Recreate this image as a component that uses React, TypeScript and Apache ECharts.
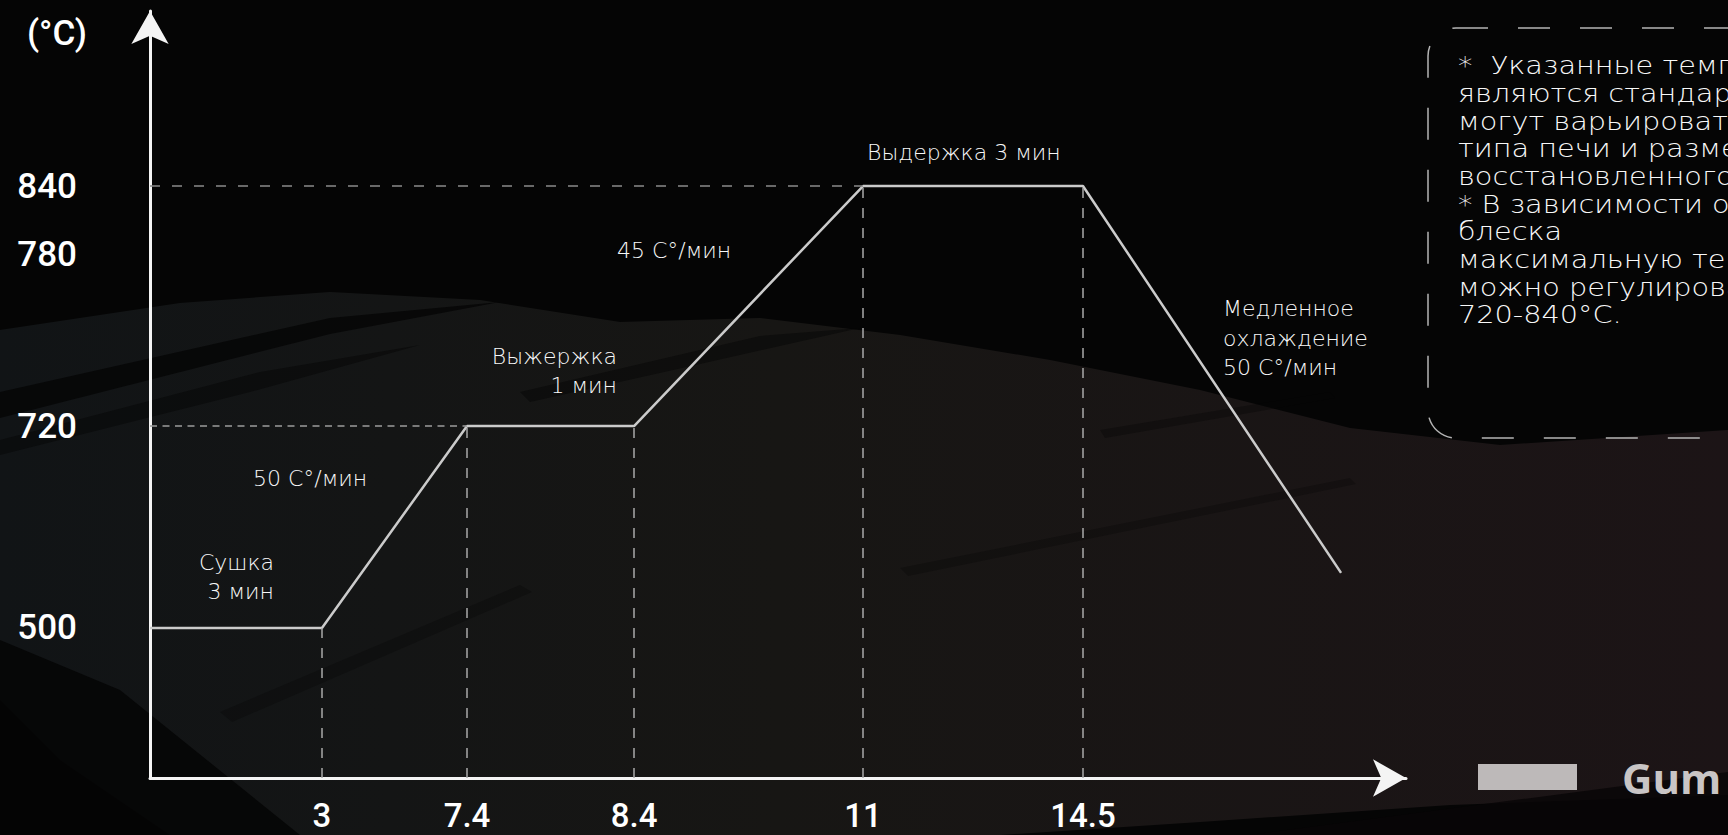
import React, { useEffect, useRef } from 'react';
import * as echarts from 'echarts';

// ---- data ----
const stageTime = [0, 3, 7.4, 8.4, 11, 14.5, 20.1]; // minutes
const stageTemp = [500, 500, 720, 720, 840, 840, 560]; // °C
const timeTicks = [3, 7.4, 8.4, 11, 14.5];
const tempTicks = [500, 720, 780, 840];
const seriesName = 'Gum';
const unitLabel = '(°C)';
const stageNotes = [
  'Сушка\n3 мин',
  '50 С°/мин',
  'Выжержка\n1 мин',
  '45 С°/мин',
  'Выдержка 3 мин',
  'Медленное\nохлаждение\n50 С°/мин',
];
const footnoteLines = [
  '*  Указанные температуры',
  'являются стандартными и',
  'могут варьироваться в зависимости от',
  'типа печи и размера',
  'восстановленного зуба.',
  '* В зависимости от степени',
  'блеска',
  'максимальную температуру',
  'можно регулировать в диапазоне',
  '720-840°С.',
];

// ---- schematic (not to scale) axes: where each labelled value sits, as a fraction of the axis length ----
const TIME_AXIS = { values: [0, 3, 7.4, 8.4, 11, 14.5, 20.1], at: [0, 0.1369, 0.2524, 0.3854, 0.5677, 0.7428, 0.9483] };
const TEMP_AXIS = { values: [500, 720, 780, 840], at: [0.1956, 0.4589, 0.6819, 0.7718] };

function piecewise(stops: { values: number[]; at: number[] }, v: number) {
  const { values, at } = stops;
  let i = 0;
  while (i < values.length - 2 && v > values[i + 1]) i++;
  const t = (v - values[i]) / (values[i + 1] - values[i]);
  return at[i] + t * (at[i + 1] - at[i]);
}
const xPos = (t: number) => piecewise(TIME_AXIS, t);
const yPos = (c: number) => piecewise(TEMP_AXIS, c);

function labelFor(ticks: number[], map: (v: number) => number, v: number) {
  let best = ticks[0];
  let d = Infinity;
  for (const t of ticks) {
    const dd = Math.abs(map(t) - v);
    if (dd < d) {
      d = dd;
      best = t;
    }
  }
  return String(best);
}

const NOTE_FONT = 'DejaVu Sans';
const AXIS_FONT = 'Roboto';

function buildOption() {
  const pts = stageTime.map((t, i) => [xPos(t), yPos(stageTemp[i])]);
  const vStyle = { color: '#a9a9a9', width: 1.5, type: [10, 10] };
  const markData: any[] = [];
  for (let i = 1; i <= 5; i++) {
    markData.push([{ coord: [pts[i][0], 0], lineStyle: vStyle }, { coord: pts[i] }]);
  }
  markData.push([
    { coord: [0, yPos(stageTemp[2])], lineStyle: { color: '#9c9c9c', width: 1.5, type: [7, 5.5] } },
    { coord: pts[2] },
  ]);
  markData.push([
    { coord: [0, yPos(stageTemp[4])], lineStyle: { color: '#8a8a8a', width: 1.5, type: [10, 12] } },
    { coord: pts[4] },
  ]);

  const noteStyle = (extra: any) => ({
    fill: '#f8f8f8',
    fontFamily: NOTE_FONT,
    fontWeight: 200,
    fontSize: 22,
    lineHeight: 29,
    verticalAlign: 'middle',
    ...extra,
  });

  const streak = (points: number[][], color: string, opacity: number) => ({
    type: 'polygon',
    z: -9,
    silent: true,
    shape: { points },
    style: { fill: color, opacity },
  });

  return {
    animation: false,
    backgroundColor: '#050505',
    grid: { left: 150, right: 322, top: 11, bottom: 57 },
    legend: {
      data: [{ name: seriesName, icon: 'rect' }],
      left: 1478,
      top: 756,
      padding: 0,
      itemWidth: 99,
      itemHeight: 26,
      selectedMode: false,
      itemStyle: { color: '#bdb9b9' },
      textStyle: {
        color: '#c9c5c5',
        fontSize: 42,
        fontWeight: 'bold',
        fontFamily: 'Open Sans',
        padding: [0, 0, 0, 40],
      },
    },
    xAxis: {
      type: 'value',
      min: 0,
      max: 1,
      splitLine: { show: false },
      axisTick: { show: false },
      axisLine: {
        show: true,
        onZero: false,
        lineStyle: { color: '#f4f4f4', width: 3 },
        symbol: ['none', 'arrow'],
        symbolSize: [28, 33],
      },
      axisLabel: {
        customValues: timeTicks.map(xPos),
        formatter: (v: number) => labelFor(timeTicks, xPos, v),
        color: '#ffffff',
        fontSize: 33,
        fontWeight: 500,
        fontFamily: AXIS_FONT,
        verticalAlign: 'middle',
        margin: 37,
      },
    },
    yAxis: {
      type: 'value',
      min: 0,
      max: 1,
      splitLine: { show: false },
      axisTick: { show: false },
      axisLine: {
        show: true,
        lineStyle: { color: '#f4f4f4', width: 3 },
        symbol: ['none', 'arrow'],
        symbolSize: [28, 33],
      },
      axisLabel: {
        customValues: tempTicks.map(yPos),
        formatter: (v: number) => labelFor(tempTicks, yPos, v),
        color: '#ffffff',
        fontSize: 35,
        fontWeight: 500,
        fontFamily: AXIS_FONT,
        margin: 73,
      },
    },
    series: [
      {
        name: seriesName,
        type: 'line',
        data: pts,
        symbol: 'none',
        clip: false,
        silent: true,
        color: '#bdb9b9',
        lineStyle: { color: '#cbcbcb', width: 2.5 },
        markLine: {
          silent: true,
          symbol: ['none', 'none'],
          label: { show: false },
          data: markData,
        },
        z: 3,
      },
    ],
    graphic: [
      // background brush texture
      {
        type: 'polygon',
        z: -10,
        silent: true,
        shape: {
          points: [
            [0, 330], [180, 303], [330, 292], [480, 300], [620, 322], [760, 318], [900, 335],
            [1050, 360], [1200, 390], [1350, 428], [1500, 445], [1728, 430],
            [1728, 795], [1450, 805], [1200, 822], [1000, 835], [170, 835], [60, 760], [0, 700],
          ],
        },
        style: {
          fill: new echarts.graphic.LinearGradient(0, 0, 1, 0, [
            { offset: 0, color: '#111416' },
            { offset: 0.45, color: '#171614' },
            { offset: 1, color: '#1c1416' },
          ]),
        },
      },
      streak([[0, 392], [330, 318], [500, 302], [330, 334], [0, 418]], '#050505', 0.8),
      streak([[0, 440], [260, 372], [420, 345], [250, 392], [0, 455]], '#050505', 0.45),
      streak([[520, 392], [760, 336], [860, 328], [700, 364], [530, 402]], '#050505', 0.5),
      streak([[220, 712], [520, 585], [532, 592], [232, 722]], '#050505', 0.3),
      streak([[900, 568], [1350, 478], [1356, 484], [908, 576]], '#050505', 0.3),
      streak([[1100, 430], [1330, 392], [1335, 398], [1105, 438]], '#050505', 0.35),
      streak([[0, 640], [120, 690], [300, 835], [0, 835]], '#050505', 0.85),
      streak([[1250, 835], [1728, 772], [1728, 835]], '#070506', 0.8),
      // unit label
      {
        type: 'text',
        x: 57,
        y: 33,
        z: 5,
        style: {
          text: unitLabel,
          fill: '#ffffff',
          fontFamily: AXIS_FONT,
          fontWeight: 500,
          fontSize: 35,
          align: 'center',
          verticalAlign: 'middle',
        },
      },
      // stage annotations
      { type: 'text', x: 274, y: 577, z: 5, style: noteStyle({ text: stageNotes[0], align: 'right' }) },
      { type: 'text', x: 253, y: 478, z: 5, style: noteStyle({ text: stageNotes[1], align: 'left' }) },
      { type: 'text', x: 617, y: 371, z: 5, style: noteStyle({ text: stageNotes[2], align: 'right' }) },
      { type: 'text', x: 617, y: 250, z: 5, style: noteStyle({ text: stageNotes[3], align: 'left' }) },
      { type: 'text', x: 867, y: 152, z: 5, style: noteStyle({ text: stageNotes[4], align: 'left' }) },
      { type: 'text', x: 1223, y: 338, z: 5, style: noteStyle({ text: stageNotes[5], align: 'left', lineHeight: 29.5 }) },
      // footnote box
      {
        type: 'rect',
        z: 5,
        silent: true,
        shape: { x: 1428, y: 28, width: 360, height: 410, r: 28 },
        style: { fill: 'none', stroke: '#b4b4b4', lineWidth: 1.5, lineDash: [32, 30] },
      },
      {
        type: 'text',
        x: 1458,
        y: 190,
        scaleX: 1.15,
        z: 5,
        style: noteStyle({
          text: footnoteLines.join('\n'),
          align: 'left',
          fontSize: 25,
          lineHeight: 27.7,
        }),
      },
    ],
  };
}

export default function App() {
  const ref = useRef<HTMLDivElement>(null);
  useEffect(() => {
    document.body.style.margin = '0';
    document.body.style.background = '#050505';
    if (!ref.current) return;
    const chart = echarts.init(ref.current, undefined, { renderer: 'svg' });
    chart.setOption(buildOption() as any);
    return () => chart.dispose();
  }, []);
  return (
    <div
      ref={ref}
      style={{ position: 'fixed', left: 0, top: 0, width: 1728, height: 835, overflow: 'hidden' }}
    />
  );
}
